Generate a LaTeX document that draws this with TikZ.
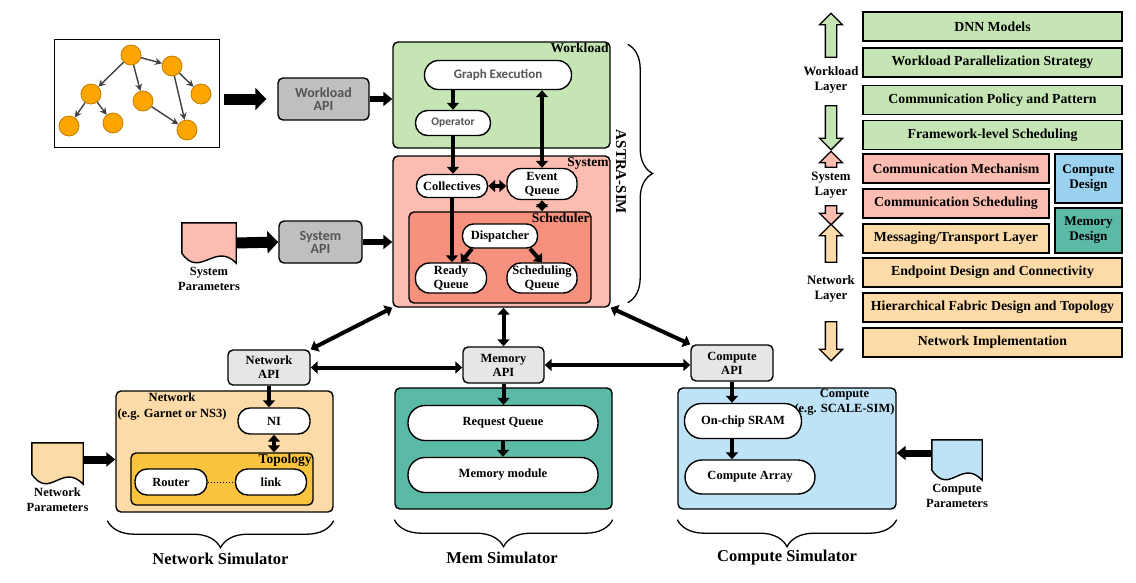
\documentclass[tikz,border=0pt]{standalone}
\usepackage{fontspec}
\setmainfont{Liberation Serif}
\newfontfamily\apifont{Carlito}
\usepackage{xcolor}
\usetikzlibrary{shapes,shapes.arrows,arrows.meta,positioning,calc,decorations.pathreplacing}

\definecolor{wlgreen}{HTML}{C6E5B4}
\definecolor{syspink}{HTML}{FBBDB1}
\definecolor{schedred}{HTML}{F7917F}
\definecolor{netpeach}{HTML}{FDDBA8}
\definecolor{topogold}{HTML}{FBC43E}
\definecolor{memteal}{HTML}{5BBAA6}
\definecolor{compblue}{HTML}{BEE3F6}
\definecolor{cdblue}{HTML}{9BD2F0}
\definecolor{apigray}{HTML}{BFBFBF}
\definecolor{apilight}{HTML}{E6E6E6}
\definecolor{dagorange}{HTML}{FFA500}
\definecolor{inkgray}{HTML}{555555}

\tikzset{
  panel/.style={draw, line width=1.4pt, rounded corners=5pt, inner sep=0pt},
  pill/.style={draw, fill=white, line width=1.4pt, rounded corners=11pt, inner sep=1pt, align=center},
  api/.style={draw, line width=1.4pt, rounded corners=5pt, inner sep=1pt, align=center},
  tag/.style={anchor=north east, inner sep=2pt, font=\bfseries\fontsize{13.5}{14}\selectfont},
  layer/.style={draw, line width=1.4pt, minimum height=29pt, inner sep=0pt, font=\bfseries\fontsize{13.8}{14}\selectfont},
  sidelabel/.style={align=center, font=\bfseries\fontsize{12.8}{15}\selectfont},
  doclabel/.style={align=center, font=\bfseries\fontsize{12.5}{15.5}\selectfont},
  simlabel/.style={font=\bfseries\fontsize{16.5}{18}\selectfont},
  sanstext/.style={text=inkgray, font=\apifont\bfseries\fontsize{#1}{#1}\selectfont},
  conn/.style={line width=4pt, -{Triangle[length=7pt,width=12pt]}},
  biconn/.style={line width=4pt, {Triangle[length=7pt,width=12pt]}-{Triangle[length=7pt,width=12pt]}},
  feed/.style={line width=#1, -{Triangle[length=9pt,width=14pt]}},
  bigfeed/.style={line width=11pt, -{Triangle[length=11pt,width=22pt]}},
  dagnode/.style={circle, draw=dagorange!75!black, fill=dagorange, line width=0.8pt, minimum size=20pt, inner sep=0pt},
  dagedge/.style={draw=black!75, line width=1.4pt, -{Stealth[length=7pt,width=7pt]}},
  updown/.style={single arrow, draw, line width=1.3pt, inner xsep=5pt, inner ysep=0pt, single arrow head extend=6pt, minimum height=#1},
  brace/.style={decorate, decoration={brace, amplitude=#1}, line width=1.3pt},
}

\newcommand{\paperdoc}[2]{%
  \draw [line width=1.4pt, fill=#2] (#1.north west) -- (#1.north east) -- (#1.south east)
    .. controls ([xshift=-21pt,yshift=22pt]#1.south east) and ([xshift=18pt,yshift=-16pt]#1.south west) .. ([yshift=10pt]#1.south west) -- cycle;}

\begin{document}
\begin{tikzpicture}[x=1pt, y=-1pt, font=\bfseries\fontsize{12.5}{14}\selectfont]
    \useasboundingbox (0,0) rectangle (1136,582);

    % workload graph
    \node [draw, line width=1pt, minimum width=165pt, minimum height=108pt] (dagbox) at (136.5,93) {};
    \node [dagnode] (g1) at (131,55) {};
    \node [dagnode] (g2) at (172,66) {};
    \node [dagnode] (g3) at (91,94) {};
    \node [dagnode] (g4) at (143,101) {};
    \node [dagnode] (g5) at (201,94) {};
    \node [dagnode] (g6) at (69,126) {};
    \node [dagnode] (g7) at (113,123) {};
    \node [dagnode] (g8) at (187,130) {};
    \draw [dagedge] (g1) -- (g2);
    \draw [dagedge] (g1) -- (g3);
    \draw [dagedge] (g1) -- (g4);
    \draw [dagedge] (g2) -- (g5);
    \draw [dagedge] (g2) -- (g8);
    \draw [dagedge] (g3) -- (g6);
    \draw [dagedge] (g3) -- (g7);
    \draw [dagedge] (g4) -- (g8);

    \node [api, fill=apigray, sanstext=14, minimum width=91pt, minimum height=42pt] (wlapi) at (323.5,99) {Workload\\[-1pt]API};
    \draw [bigfeed] ([xshift=4pt]dagbox.east |- wlapi.west) -- ([xshift=-11pt]wlapi.west);

    % ASTRA-SIM: workload layer
    \node [panel, fill=wlgreen, minimum width=217pt, minimum height=106pt] (wl) at (501.5,95) {};
    \node [tag] (wltag) at (wl.north east) {Workload};
    \node [pill, rounded corners=14pt, sanstext=13, minimum width=147pt, minimum height=29pt] (gexec) at (498,75) {Graph Execution};
    \node [pill, rounded corners=12pt, sanstext=11.5, minimum width=75pt, minimum height=25pt] (oper) at (453,123) {Operator};
    \draw [feed=6pt] (wlapi.east) -- (wlapi.east -| wl.west);

    % ASTRA-SIM: system layer
    \node [panel, fill=syspink, minimum width=217pt, minimum height=151pt] (sys) at (501.5,231.5) {};
    \node [tag] (systag) at (sys.north east) {System};
    \node [pill, minimum width=71pt, minimum height=23pt] (coll) at (452,186) {Collectives};
    \node [pill, rounded corners=14pt, minimum width=70pt, minimum height=31pt] (evq) at (542,184) {Event\\Queue};
    \node [panel, fill=schedred, minimum width=182pt, minimum height=91pt] (sched) at (500,257.5) {};
    \node [tag] (schedtag) at (sched.north east) {Scheduler};
    \node [pill, minimum width=75pt, minimum height=24pt] (disp) at (500,236) {Dispatcher};
    \node [pill, rounded corners=14pt, minimum width=71pt, minimum height=30pt] (ready) at (451,278) {Ready\\Queue};
    \node [pill, rounded corners=14pt, minimum width=70pt, minimum height=30pt] (schq) at (542,278) {Scheduling\\Queue};

    \draw [conn] (oper |- gexec.south) -- (oper);
    \draw [conn] (oper) -- (oper |- coll.north);
    \draw [biconn] (evq |- gexec.south) -- (evq);
    \draw [biconn] (coll.east) -- (coll.east -| evq.west);
    \draw [biconn] (evq) -- (evq |- sched.north);
    \draw [conn] (coll) -- (coll |- ready.north);
    \draw [conn] ([xshift=-28pt]disp.south) -- ([xshift=10pt]ready.north);
    \draw [conn] ([xshift=30pt]disp.south) -- (schq.north);

    \draw [brace=25pt] ([xshift=17pt,yshift=-3pt]wl.north east) -- ([xshift=17pt,yshift=5pt]sys.south east);
    \node [rotate=-90, font=\bfseries\fontsize{15}{15}\selectfont] (astra) at (621,172) {ASTRA-SIM};

    % system inputs
    \node [minimum width=54pt, minimum height=40pt, inner sep=0pt] (sysdoc) at (209,243) {};
    \paperdoc{sysdoc}{syspink}
    \node [doclabel, below=0pt of sysdoc] (sysdoclbl) {System\\Parameters};
    \node [api, fill=apigray, sanstext=14, minimum width=83pt, minimum height=42pt] (sysapi) at (320.5,242) {System\\[-1pt]API};
    \draw [bigfeed] (sysdoc.east) -- (sysapi.west);
    \draw [feed=6pt] (sysapi.east) -- (sysapi.east -| sys.west);

    % layer legend
    \node [layer, fill=wlgreen, minimum width=259pt] (dnn) at (992.5,26.5) {DNN Models};
    \node [layer, fill=wlgreen, minimum width=259pt] (wps) at (992.5,62.5) {Workload Parallelization Strategy};
    \node [layer, fill=wlgreen, minimum width=259pt] (cpp) at (992.5,100) {Communication Policy and Pattern};
    \node [layer, fill=wlgreen, minimum width=259pt] (fls) at (992.5,135) {Framework-level Scheduling};
    \node [layer, fill=syspink, minimum width=186pt] (cmech) at (956,168.5) {Communication Mechanism};
    \node [layer, fill=syspink, minimum width=186pt] (csched) at (956,203.5) {Communication Scheduling};
    \node [layer, fill=netpeach, minimum width=186pt] (msg) at (956,238.5) {Messaging/Transport Layer};
    \node [layer, fill=cdblue, minimum width=67pt, minimum height=49pt, align=center, font=\bfseries\fontsize{13.2}{15}\selectfont] (cdes) at (1088.5,178.5) {Compute\\Design};
    \node [layer, fill=memteal, minimum width=67pt, minimum height=45pt, align=center, font=\bfseries\fontsize{13.2}{15}\selectfont] (mdes) at (1088.5,230.5) {Memory\\Design};
    \node [layer, fill=netpeach, minimum width=259pt] (edc) at (992.5,272.5) {Endpoint Design and Connectivity};
    \node [layer, fill=netpeach, minimum width=259pt] (hfd) at (992.5,307.5) {Hierarchical Fabric Design and Topology};
    \node [layer, fill=netpeach, minimum width=259pt] (nimpl) at (992.5,342.5) {Network Implementation};

    \node [updown=44pt, fill=wlgreen, shape border rotate=90] (wlup) at (831,38) {};
    \node [sidelabel] (wllbl) at (831,80) {Workload\\Layer};
    \node [updown=44pt, fill=wlgreen, shape border rotate=270] (wldown) at (831,125) {};
    \node [updown=16pt, fill=syspink, shape border rotate=90] (sysup) at (831,162) {};
    \node [sidelabel] (syslbl) at (831,185) {System\\Layer};
    \node [updown=19pt, fill=syspink, shape border rotate=270] (sysdown) at (831,212.5) {};
    \node [updown=38pt, fill=netpeach, shape border rotate=90] (netup) at (831,246) {};
    \node [sidelabel] (netlbl) at (831,289) {Network\\Layer};
    \node [updown=39pt, fill=netpeach, shape border rotate=270] (netdown) at (831,338.5) {};

    % simulator APIs
    \node [api, fill=apilight, minimum width=82pt, minimum height=35pt] (netapi) at (269,367.5) {Network\\API};
    \node [api, fill=apilight, minimum width=81pt, minimum height=36pt] (memapi) at (503.5,365) {Memory\\API};
    \node [api, fill=apilight, minimum width=82pt, minimum height=36pt] (compapi) at (732,363) {Compute\\API};
    \draw [biconn] (sys.south west) -- (netapi.north east);
    \draw [biconn] (memapi |- sys.south) -- (memapi);
    \draw [biconn] (sys.south east) -- (compapi.north west);
    \draw [biconn] (netapi.east) -- (netapi.east -| memapi.west);
    \draw [biconn] (memapi.east) -- (memapi.east -| compapi.west);

    % network simulator
    \node [panel, fill=netpeach, minimum width=217pt, minimum height=121pt] (net) at (224.5,451.5) {};
    \node [align=center, anchor=north west, inner sep=2pt, font=\bfseries\fontsize{12.5}{16}\selectfont] (nettag) at (net.north west) {Network\\(e.g. Garnet or NS3)};
    \node [pill, rounded corners=12pt, minimum width=72pt, minimum height=26pt] (ni) at (274,421) {NI};
    \node [panel, fill=topogold, minimum width=182pt, minimum height=52pt] (topo) at (222,479) {};
    \node [tag] (topotag) at (topo.north east) {Topology};
    \node [pill, rounded corners=12pt, minimum width=72pt, minimum height=26pt] (router) at (171,482) {Router};
    \node [pill, rounded corners=12pt, minimum width=71pt, minimum height=26pt] (link) at (271,482) {link};
    \draw [dotted, line width=1pt] (router) -- (link);
    \draw [conn] (netapi) -- (netapi |- ni.north);
    \draw [biconn] (ni) -- (ni |- topo.north);
    \node [minimum width=51pt, minimum height=41pt, inner sep=0pt] (netdoc) at (57.5,463.5) {};
    \paperdoc{netdoc}{netpeach}
    \node [doclabel, below=0pt of netdoc] (netdoclbl) {Network\\Parameters};
    \draw [feed=8pt] ([yshift=4pt]netdoc.east) -- ([yshift=4pt]netdoc.east -| net.west);
    \draw [brace=27pt] ([yshift=-8pt]net.south east) -- ([xshift=-8pt,yshift=-8pt]net.south west);
    \node [simlabel] (netsim) at (220.5,559) {Network Simulator};

    % memory simulator
    \node [panel, fill=memteal, minimum width=217pt, minimum height=121pt] (mem) at (503.5,448.5) {};
    \node [pill, rounded corners=17pt, minimum width=190pt, minimum height=35pt] (reqq) at (503,423) {Request Queue};
    \node [pill, rounded corners=17pt, minimum width=190pt, minimum height=35pt] (memmod) at (503,475) {Memory module};
    \draw [conn] (memapi) -- (memapi |- reqq.north);
    \draw [conn] (reqq) -- (memmod);
    \draw [brace=27pt] ([yshift=-10pt]mem.south east) -- ([yshift=-10pt]mem.south west);
    \node [simlabel] (memsim) at (502,558) {Mem Simulator};

    % compute simulator
    \node [panel, fill=compblue, minimum width=218pt, minimum height=121pt] (comp) at (787,448.5) {};
    \node [align=center, anchor=north east, inner sep=2pt, font=\bfseries\fontsize{12.5}{15}\selectfont] (comptag) at (comp.north east) {Compute\\(e.g. SCALE-SIM)};
    \node [pill, rounded corners=17pt, minimum width=117pt, minimum height=35pt] (sram) at (743,421) {On-chip SRAM};
    \node [pill, rounded corners=17pt, minimum width=130pt, minimum height=34pt] (carray) at (750,477) {Compute Array};
    \draw [conn] (compapi) -- (compapi |- sram.north);
    \draw [conn] (compapi |- sram.south) -- (compapi |- carray.north);
    \node [minimum width=50pt, minimum height=40pt, inner sep=0pt] (compdoc) at (957,460) {};
    \paperdoc{compdoc}{compblue}
    \node [doclabel, below=0pt of compdoc] (compdoclbl) {Compute\\Parameters};
    \draw [feed=7pt] ([yshift=7pt]compdoc.west) -- ([yshift=7pt]compdoc.west -| comp.east);
    \draw [brace=27pt] ([yshift=-10pt]comp.south east) -- ([yshift=-10pt]comp.south west);
    \node [simlabel] (compsim) at (787,558) {Compute Simulator};
\end{tikzpicture}
\end{document}
